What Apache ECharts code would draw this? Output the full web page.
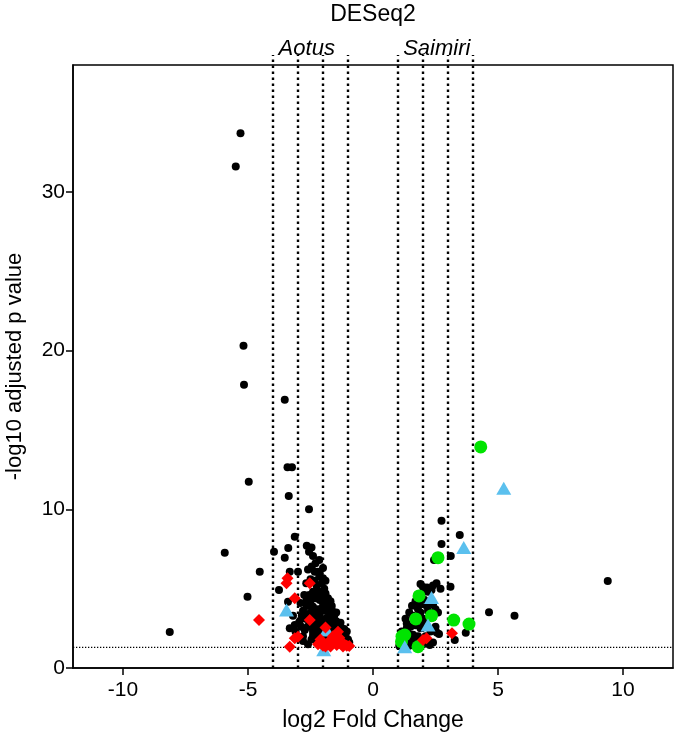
<!DOCTYPE html>
<html><head><meta charset="utf-8">
<script src="https://cdn.jsdelivr.net/npm/echarts@6/dist/echarts.min.js"></script>
<style>html,body{margin:0;padding:0;background:#fff}#c{width:677px;height:734px}</style>
</head><body><div id="c"></div>
<script>
const xTicks = [-10, -5, 0, 5, 10];
const yTicks = [0, 10, 20, 30];
const foldCutoffs = [-4, -3, -2, -1, 1, 2, 3, 4];
const pThreshold = 1.3;
const speciesNames = ['Aotus', 'Saimiri'];
const speciesCenters = [-2.65, 2.55];

const blackPoints = [
  [-5.30,33.7],[-5.49,31.6],[-5.18,20.3],[-5.16,17.85],[-3.53,16.9],[-3.42,12.65],[-3.24,12.65],
  [-4.97,11.74],[-3.37,10.84],[-2.56,10.0],[-3.13,8.27],[-3.39,7.56],[-5.93,7.27],[-3.96,7.33],
  [-3.53,6.95],[-4.53,6.07],[-5.02,4.49],[-3.76,4.91],[-3.33,6.07],[-3.0,6.07],[-3.4,4.18],
  [-8.13,2.27],[-3.33,2.5],[-3.13,2.71],[-2.86,2.6],[-2.73,2.39],[-2.4,2.29],
  [-2.56,7.33],[-2.40,7.06],[-2.46,7.6],[-2.65,7.7],
  [-2.33,6.07],[-2.2,6.07],[-2.45,6.4],[-2.3,6.6],[-2.15,6.8],[-2.6,6.2],[-2.0,6.3],
  [-2.13,5.97],[-2.0,5.65],[-2.05,5.34],[-2.35,5.5],[-2.25,5.2],[-2.5,5.6],[-2.67,5.34],[-1.9,5.5],[-2.15,5.75],[-1.95,5.0],[-2.4,4.8],
  [-2.26,4.91],[-2.2,4.6],[-2.4,4.55],[-2.3,4.4],[-2.5,4.2],[-2.0,4.5],[-2.1,4.8],[-1.8,4.4],[-1.7,4.2],[-2.13,4.28],[-2.0,4.08],[-2.75,4.6],[-2.65,4.3],[-2.9,4.1],[-1.9,4.7],
  [-1.86,3.97],[-1.73,3.76],[-1.6,3.55],[-2.4,3.86],[-2.46,3.55],[-2.33,3.23],[-2.13,3.4],[-1.9,3.6],[-2.2,3.7],[-2.6,3.4],[-2.65,3.9],[-2.8,3.6],[-1.55,3.3],[-1.47,3.5],[-1.75,3.3],[-2.05,3.75],[-1.65,3.9],[-2.7,3.1],[-3.2,3.3],
  [-2.0,3.0],[-1.86,3.15],[-1.73,2.9],[-1.6,3.0],[-1.47,2.95],[-2.35,3.0],[-2.1,2.7],[-1.9,2.8],[-1.5,2.7],[-1.4,2.5],[-1.3,2.6],[-2.4,2.55],[-2.2,2.3],[-2.55,2.8],[-2.95,2.9],[-1.2,2.2],[-1.35,2.1],[-1.55,2.2],[-1.7,2.4],[-2.0,2.2],[-1.3,2.85],[-1.15,2.45],[-1.05,2.3],
  [-1.1,2.0],[-1.0,1.8],[-1.15,1.7],[-2.46,1.8],[-2.26,1.7],[-2.3,2.0],[-0.95,1.6],[-1.0,1.4],[-1.8,1.9],[-1.6,1.7],[-2.1,1.6],[-2.6,1.5],[-2.8,2.0],[-3.1,2.3],[-2.8,1.7],
  [-2.85,3.3],[-2.6,2.6],[-2.5,3.1],[-2.25,2.65],[-1.95,2.5],[-1.65,2.65],[-1.75,3.5],[-2.15,3.1],[-2.3,3.55],[-1.45,2.0],[-1.25,1.9],[-2.0,1.75],[-2.4,2.05],[-1.85,4.2],[-2.55,4.6],
  [2.74,9.28],[3.47,8.38],[2.74,7.81],[2.44,6.8],[3.11,7.06],[3.10,5.12],[2.64,2.14],[3.71,2.22],[3.27,1.76],[2.27,1.45],[4.64,3.51],[5.66,3.30],[9.39,5.48],
  [1.9,5.3],[2.0,5.1],[2.16,5.08],[2.34,4.91],[2.54,5.34],[2.4,5.2],[2.7,5.0],[2.2,4.8],[1.95,4.7],
  [1.56,3.93],[1.7,4.2],[1.85,4.0],[2.05,4.3],[2.15,3.9],[2.4,4.0],[2.5,3.7],[1.45,3.5],[1.6,3.3],[1.9,3.5],[2.0,3.1],[2.4,3.2],[2.6,3.5],
  [1.35,2.8],[1.5,2.6],[1.7,2.7],[1.9,2.5],[2.0,2.9],[2.3,2.3],[2.5,2.6],[1.23,2.24],[1.4,2.2],[1.6,2.1],[1.8,2.0],[2.1,2.0],
  [1.1,1.9],[1.3,1.7],[1.5,1.6],[1.7,1.5],[1.9,1.4],[2.1,1.55],[2.4,1.6],[1.05,1.4],[1.25,1.35],[1.45,1.4],[1.6,1.85],[1.35,2.5],[2.55,2.24],[2.2,3.6],[1.8,3.7],[1.3,3.1],[1.15,2.3]
];
const greenPoints = [
  [4.31,13.93],[2.6,6.95],[1.84,4.54],[3.23,3.02],[3.84,2.77],[1.71,3.09],[2.34,3.30],
  [1.27,2.08],[1.14,1.66],[1.8,1.34],[1.16,2.0]
];
const bluePoints = [
  [5.23,11.32],[3.63,7.6],[2.34,4.45],[2.2,2.71],[1.27,1.34],
  [-3.46,3.65],[-1.85,2.4],[-1.97,1.15]
];
const redPoints = [
  [-3.42,5.65],[-3.46,5.34],[-3.13,4.39],[-4.56,3.02],[-2.53,5.34],[-2.53,3.02],[-3.13,1.87],[-3.33,1.34],[-3.0,1.97],
  [-1.9,2.55],[-1.4,2.29],
  [-2.2,1.5],[-2.0,1.4],[-1.8,1.6],[-1.7,1.35],[-1.55,1.8],[-1.45,1.45],[-1.3,1.55],[-1.2,1.35],[-1.05,1.4],[-1.6,2.0],[-1.35,1.9],[-2.1,1.8],[-1.9,1.35],[-1.15,1.5],[-0.95,1.38],
  [3.16,2.19],[2.0,1.76],[2.14,1.87]
];

const FONT = 'Liberation Sans';
const chart = echarts.init(document.getElementById('c'), null, {renderer: 'canvas'});
const Y_MAX = 38;
chart.setOption({
  animation: false,
  backgroundColor: '#fff',
  grid: {left: 73, right: 4, top: 65, bottom: 66, outerBoundsMode: 'none', containLabel: false, show: true, borderColor: '#000', borderWidth: 1.5, backgroundColor: 'transparent'},
  xAxis: {
    type: 'value', min: -12, max: 12,
    name: 'log2 Fold Change', nameLocation: 'middle', nameGap: 41,
    nameTextStyle: {fontFamily: FONT, fontSize: 23, color: '#000'},
    axisLine: {show: true, onZero: false, lineStyle: {color: '#000', width: 1.5}},
    axisTick: {show: true, length: 7, lineStyle: {color: '#000', width: 1.5}, customValues: xTicks},
    axisLabel: {fontFamily: FONT, fontSize: 21, color: '#000', margin: 12, customValues: xTicks},
    splitLine: {show: false}
  },
  yAxis: {
    type: 'value', min: 0, max: Y_MAX,
    name: '-log10 adjusted p value', nameLocation: 'middle', nameGap: 47, nameRotate: 90,
    nameTextStyle: {fontFamily: FONT, fontSize: 22, color: '#000'},
    axisLine: {show: true, onZero: false, lineStyle: {color: '#000', width: 1.5}},
    axisTick: {show: true, length: 7, lineStyle: {color: '#000', width: 1.5}, customValues: yTicks},
    axisLabel: {fontFamily: FONT, fontSize: 21, color: '#000', margin: 8, customValues: yTicks},
    splitLine: {show: false}
  },
  series: [
    {
      type: 'custom', name: 'cutoffs', clip: false, z: 1,
      data: foldCutoffs.map(v => [v]),
      encode: {x: 0},
      renderItem: function (params, api) {
        const x = api.value(0);
        const p0 = api.coord([x, 0]);
        const p1 = api.coord([x, Y_MAX]);
        return {type: 'line', shape: {x1: p0[0], y1: p0[1], x2: p1[0], y2: p1[1] - 10},
          style: {stroke: '#000', lineWidth: 2.4, lineDash: [2.4, 3.6]}};
      },
      silent: true
    },
    {
      type: 'custom', name: 'threshold', clip: false, z: 1,
      data: [[pThreshold]],
      encode: {y: 0},
      renderItem: function (params, api) {
        const y = api.value(0);
        const p0 = api.coord([-12, y]);
        const p1 = api.coord([12, y]);
        return {type: 'line', shape: {x1: p0[0], y1: p0[1], x2: p1[0], y2: p1[1]},
          style: {stroke: '#000', lineWidth: 1.3, lineDash: [1.3, 1.7]}};
      },
      silent: true
    },
    {type: 'scatter', name: 'other', data: blackPoints, symbol: 'circle', symbolSize: 8, itemStyle: {color: '#000', opacity: 1}, z: 2},
    {type: 'scatter', name: 'green', data: greenPoints, symbol: 'circle', symbolSize: 13, itemStyle: {color: '#00E400', opacity: 1}, z: 3},
    {type: 'scatter', name: 'blue', data: bluePoints, symbol: 'triangle', symbolSize: [15, 13], itemStyle: {color: '#5BC0EE', opacity: 1}, z: 4},
    {type: 'scatter', name: 'red', data: redPoints, symbol: 'diamond', symbolSize: 12, itemStyle: {color: '#FF0000', opacity: 1}, z: 5}
  ]
});
const topMid = chart.convertToPixel({xAxisIndex: 0, yAxisIndex: 0}, [0, Y_MAX]);
const labels = speciesNames.map((name, i) => {
  const p = chart.convertToPixel({xAxisIndex: 0, yAxisIndex: 0}, [speciesCenters[i], Y_MAX]);
  return {type: 'text', x: p[0], y: p[1] - 16, style: {text: name, fontFamily: FONT, fontSize: 22, fontStyle: 'italic', fill: '#000', textAlign: 'center', textVerticalAlign: 'middle'}};
});
labels.push({type: 'text', x: topMid[0], y: 15, style: {text: 'DESeq2', fontFamily: FONT, fontSize: 23, fill: '#000', textAlign: 'center', textVerticalAlign: 'middle'}});
chart.setOption({graphic: labels});
</script>
</body></html>
